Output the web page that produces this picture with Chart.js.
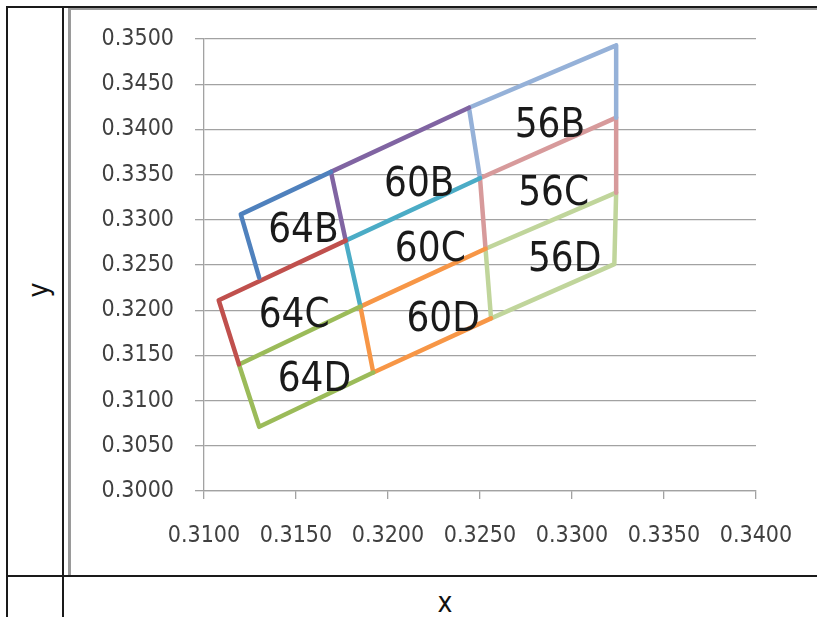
<!DOCTYPE html>
<html><head><meta charset="utf-8">
<script src="https://cdn.jsdelivr.net/npm/chart.js@4.4.1/dist/chart.umd.min.js"></script>
<style>
html,body{margin:0;padding:0;background:#fff;width:817px;height:617px;overflow:hidden;}
body{position:relative;}
.ln{position:absolute;background:#1a1a1a;}
.gr{position:absolute;background:#9a9a9a;}
#wrap{position:absolute;left:71px;top:10px;width:746px;height:565px;}
.t{position:absolute;font-family:"DejaVu Sans Condensed","DejaVu Sans",sans-serif;font-size:28px;color:#111;line-height:1;}
</style></head><body>
<div class="ln" style="left:6px;top:6px;width:811px;height:2px"></div>
<div class="gr" style="left:68px;top:8px;width:749px;height:2px"></div>
<div class="ln" style="left:6px;top:6px;width:2px;height:611px"></div>
<div class="ln" style="left:62px;top:6px;width:2px;height:611px"></div>
<div class="gr" style="left:68px;top:8px;width:3px;height:567px"></div>
<div class="ln" style="left:6px;top:575px;width:811px;height:2px"></div>
<div class="t" id="ytitle" style="left:39px;top:290px;transform:translate(-50%,-50%) rotate(-90deg);">y</div>
<div class="t" id="xtitle" style="left:445px;top:603px;transform:translate(-50%,-50%);">x</div>
<div id="wrap"><canvas id="c" width="746" height="565"></canvas></div>
<script>
// ---- data ----
const xTickValues = [0.310, 0.315, 0.320, 0.325, 0.330, 0.335, 0.340];
const xTickLabels = ['0.3100','0.3150','0.3200','0.3250','0.3300','0.3350','0.3400'];
const yTickValues = [0.300, 0.305, 0.310, 0.315, 0.320, 0.325, 0.330, 0.335, 0.340, 0.345, 0.350];
const yTickLabels = ['0.3000','0.3050','0.3100','0.3150','0.3200','0.3250','0.3300','0.3350','0.3400','0.3450','0.3500'];

const binNames = ['64B','64C','64D','60B','60C','60D','56B','56C','56D'];

const x64B = [0.3130, 0.3120, 0.3169];
const y64B = [0.3236, 0.3306, 0.3353];
const x64C = [0.3119, 0.3108, 0.3177];
const y64C = [0.3140, 0.3211, 0.3277];
const x64D = [0.3192, 0.3130, 0.3119, 0.3185];
const y64D = [0.3131, 0.3071, 0.3140, 0.3204];
const x60B = [0.3177, 0.3169, 0.3244];
const y60B = [0.3277, 0.3353, 0.3424];
const x60C = [0.3185, 0.3177, 0.3250];
const y60C = [0.3204, 0.3277, 0.3346];
const x60D = [0.3256, 0.3192, 0.3185, 0.3253];
const y60D = [0.3191, 0.3131, 0.3204, 0.3268];
const x56B = [0.3250, 0.3244, 0.3324, 0.3324];
const y56B = [0.3346, 0.3424, 0.3493, 0.3413];
const x56C = [0.3253, 0.3250, 0.3324, 0.3324];
const y56C = [0.3268, 0.3346, 0.3413, 0.3330];
const x56D = [0.3253, 0.3324, 0.3323, 0.3256, 0.3253];
const y56D = [0.3268, 0.3330, 0.3251, 0.3191, 0.3268];

const labelX = [0.3154, 0.3149, 0.3160, 0.3217, 0.3223, 0.3230, 0.3288, 0.3290, 0.3296];
const labelY = [0.3287, 0.3193, 0.3122, 0.3338, 0.3266, 0.3188, 0.3403, 0.3328, 0.3255];

// ---- build ----
const seriesX = [x64B, x64C, x64D, x60B, x60C, x60D, x56B, x56C, x56D];
const seriesY = [y64B, y64C, y64D, y60B, y60C, y60D, y56B, y56C, y56D];
const colors = ['#4F81BD','#C0504D','#9BBB59','#8064A2','#4BACC6','#F79646','#95B1D8','#D79A9B','#C0D59B'];

const datasets = binNames.map((n, i) => ({
  label: n,
  data: seriesX[i].map((x, j) => ({x: x, y: seriesY[i][j]})),
  borderColor: colors[i],
  backgroundColor: colors[i],
  showLine: true,
  borderWidth: 4.5,
  pointRadius: 0,
  fill: false
}));

const gridColor = '#a2a2a2';
const tickFont = {family: '"DejaVu Sans Condensed","DejaVu Sans",sans-serif', size: 23};

const labelPlugin = {
  id: 'binLabels',
  afterDatasetsDraw(chart) {
    const c = chart.ctx;
    const xs = chart.scales.x, ys = chart.scales.y;
    c.save();
    c.font = '40px "DejaVu Sans Condensed","DejaVu Sans",sans-serif';
    c.fillStyle = '#1a1a1a';
    c.textAlign = 'center';
    c.textBaseline = 'middle';
    binNames.forEach((n, i) => {
      c.fillText(n, xs.getPixelForValue(labelX[i]), ys.getPixelForValue(labelY[i]));
    });
    c.restore();
  }
};

function zeroPad(s) { s.paddingTop = 0; s.paddingBottom = 0; s.paddingLeft = 0; s.paddingRight = 0; }

new Chart(document.getElementById('c'), {
  type: 'scatter',
  data: {datasets},
  options: {
    responsive: false,
    animation: false,
    layout: {padding: {left: 0, right: 61, top: 29, bottom: 0}},
    plugins: {legend: {display: false}, tooltip: {enabled: false}},
    elements: {line: {tension: 0, borderJoinStyle: 'round', borderCapStyle: 'round'}},
    scales: {
      x: {
        type: 'linear', min: 0.31, max: 0.34,
        afterBuildTicks: s => { s.ticks = xTickValues.map(v => ({value: v})); },
        afterFit: s => { s.height = 84; zeroPad(s); },
        grid: {drawOnChartArea: false, drawTicks: true, tickLength: 8, color: gridColor, lineWidth: 1.3},
        border: {display: true, color: gridColor, width: 1.3},
        ticks: {callback: (v, i) => xTickLabels[i], font: tickFont, color: '#404040', padding: 23, maxRotation: 0, autoSkip: false}
      },
      y: {
        type: 'linear', min: 0.30, max: 0.35,
        afterBuildTicks: s => { s.ticks = yTickValues.map(v => ({value: v})); },
        afterFit: s => { s.width = 133; zeroPad(s); },
        grid: {drawOnChartArea: true, drawTicks: true, tickLength: 9, color: gridColor, lineWidth: 1.3},
        border: {display: true, color: gridColor, width: 1.3},
        ticks: {callback: (v, i) => yTickLabels[i], font: tickFont, color: '#404040', padding: 21, autoSkip: false}
      }
    }
  },
  plugins: [labelPlugin]
});
</script>
</body></html>
